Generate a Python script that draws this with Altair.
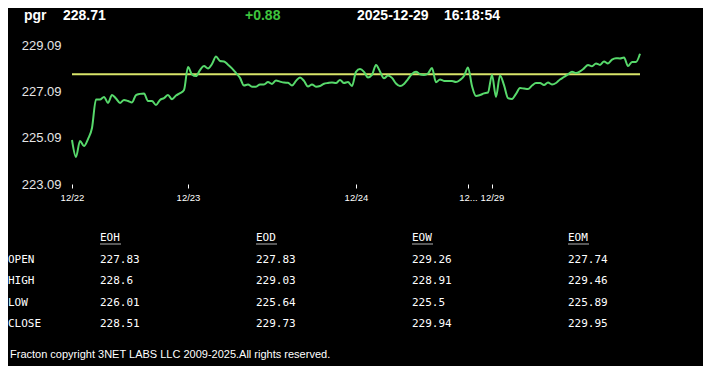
import altair as alt
import pandas as pd

# ---- price series (one point per bar) ----
prices = [
    224.99, 224.26, 224.95, 224.73, 225.03, 225.51, 226.74, 226.74, 226.85, 226.59,
    226.93, 226.78, 226.59, 226.72, 226.67, 226.61, 226.93, 226.98, 227.00, 226.67,
    226.67, 226.50, 226.72, 226.80, 226.93, 226.75, 226.91, 227.01, 227.15, 228.14,
    227.82, 227.75, 228.01, 228.18, 228.08, 228.27, 228.59, 228.40, 228.38, 228.24,
    228.08, 227.88, 227.67, 227.34, 227.39, 227.29, 227.29, 227.39, 227.39, 227.49,
    227.41, 227.56, 227.51, 227.47, 227.46, 227.34, 227.54, 227.69, 227.54, 227.30,
    227.39, 227.29, 227.32, 227.42, 227.45, 227.47, 227.45, 227.58, 227.45, 227.49,
    227.32, 227.93, 228.05, 227.93, 227.69, 227.80, 228.23, 227.95, 227.65, 227.77,
    227.67, 227.43, 227.32, 227.41, 227.62, 227.84, 227.93, 227.83, 227.80, 227.86,
    228.10, 227.48, 227.60, 227.54, 227.54, 227.54, 227.49, 227.58, 227.75, 228.12,
    227.32, 226.89, 226.93, 227.00, 227.04, 227.80, 226.85, 227.77, 227.36, 226.80,
    226.76, 226.98, 227.23, 227.21, 227.19, 227.34, 227.45, 227.45, 227.36, 227.47,
    227.39, 227.45, 227.60, 227.71, 227.82, 227.94, 227.88, 227.95, 228.08, 228.23,
    228.17, 228.29, 228.23, 228.38, 228.29, 228.46, 228.52, 228.51, 228.55, 228.18,
    228.36, 228.36, 228.71,
]
tick_index = [0, 29, 71, 99, 105]
tick_labels = ["12/22", "12/23", "12/24", "12...", "12/29"]
y_ticks = [223.09, 225.09, 227.09, 229.09]
open_level = [227.83]

# ---- summary table ----
periods = ["EOH", "EOD", "EOW", "EOM"]
fields = ["OPEN", "HIGH", "LOW", "CLOSE"]
open_vals = ["227.83", "227.83", "229.26", "227.74"]
high_vals = ["228.6", "229.03", "228.91", "229.46"]
low_vals = ["226.01", "225.64", "225.5", "225.89"]
close_vals = ["228.51", "229.73", "229.94", "229.95"]

# ---- header / footer ----
symbol = "pgr"
last_price = "228.71"
change = "+0.88"
date_str = "2025-12-29"
time_str = "16:18:54"
footer = "Fracton copyright 3NET LABS LLC 2009-2025.All rights reserved."

W, H = 568, 139
SANS = "Liberation Sans"
MONO = "DejaVu Sans Mono"

df = pd.DataFrame({"i": list(range(len(prices))), "price": prices})
lvl = pd.DataFrame({"v": open_level})

label_expr = " : ".join(
    f"datum.value == {i} ? '{l}'" for i, l in zip(tick_index, tick_labels)
) + " : ''"

x_enc = alt.X(
    "i:Q",
    scale=alt.Scale(domain=[0, len(prices) - 1], nice=False, zero=False),
    axis=alt.Axis(
        values=tick_index, labelExpr=label_expr, title=None, grid=False,
        domain=False, ticks=True, tickSize=4, tickColor="white",
        labelColor="white", labelFont=SANS, labelFontSize=9.5,
        labelPadding=4, labelOverlap=False, labelFlush=False,
    ),
)
y_scale = alt.Scale(domain=[223.09, 229.09], nice=False, zero=False)
y_enc = alt.Y(
    "price:Q",
    scale=y_scale,
    axis=alt.Axis(
        values=y_ticks, format=".2f", title=None, grid=False, domain=False,
        ticks=False, tickSize=0, labelPadding=11, labelColor="#e6e6e6",
        labelFont=SANS, labelFontSize=13,
    ),
)

line = alt.Chart(df).mark_line(color="#57d96b", strokeWidth=2, interpolate="monotone").encode(
    x=x_enc, y=y_enc
)
rule = alt.Chart(lvl).mark_rule(color="#d8e46a", strokeWidth=2).encode(
    y=alt.Y("v:Q", scale=y_scale)
)
price_layer = alt.layer(rule, line)

# table data: r = row index (0 = header row), c = column index (0 = row labels)
rows = []
for j, p in enumerate(periods):
    rows.append({"r": 0, "c": j + 1, "text": p})
for k, (name, vals) in enumerate(zip(fields, [open_vals, high_vals, low_vals, close_vals])):
    rows.append({"r": k + 1, "c": 0, "text": name})
    for j, v in enumerate(vals):
        rows.append({"r": k + 1, "c": j + 1, "text": v})
tdf = pd.DataFrame(rows)

tx = alt.X("c:Q", scale=alt.Scale(domain=[0, 1, 4], range=[-64, 28, 496]), axis=None)
ty = alt.Y("r:Q", scale=alt.Scale(domain=[0, 4], range=[193, 279], zero=False, nice=False), axis=None)

table_text = alt.Chart(tdf).mark_text(
    align="left", baseline="middle", font=MONO, fontSize=11, color="white"
).encode(x=tx, y=ty, text="text:N")
underline = alt.Chart(tdf).transform_filter(alt.datum.r == 0).mark_tick(
    orient="horizontal", size=21, thickness=1, color="white", xOffset=10.5, yOffset=6
).encode(x=tx, y=ty)
table_layer = alt.layer(table_text, underline)


def label(txt, x, y, color="white", size=14, weight="bold", font=SANS):
    return alt.Chart(pd.DataFrame({"t": [txt]})).mark_text(
        align="left", baseline="middle", font=font, fontSize=size,
        fontWeight=weight, color=color,
    ).encode(x=alt.value(x), y=alt.value(y), text="t:N")


header = alt.layer(
    label(symbol, -48, -29.5),
    label(last_price, -9, -29.5),
    label(change, 173, -29.5, color="#3ec43e"),
    label(date_str, 285, -29.5),
    label(time_str, 372, -29.5),
)
foot = label(footer, -62, 310, size=11, weight="normal")

chart = alt.layer(price_layer, table_layer, header, foot).resolve_scale(
    x="independent", y="independent"
).properties(
    width=W, height=H,
    autosize=alt.AutoSizeParams(type="none"),
    padding={"left": 64, "top": 37, "right": 63, "bottom": 182},
).configure(background="black").configure_view(stroke=None)

chart.save("out.html", embed_options={"renderer": "svg", "actions": False})
